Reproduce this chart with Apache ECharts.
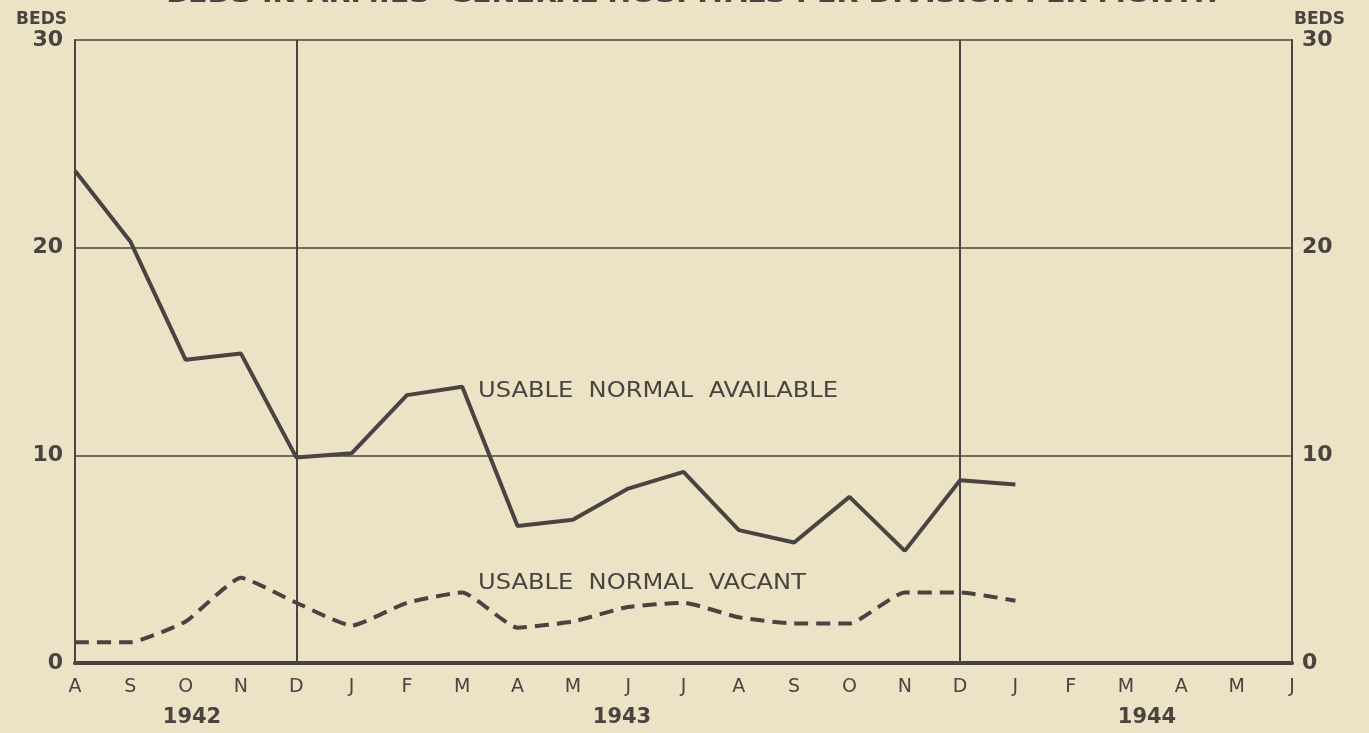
<!DOCTYPE html>
<html>
<head>
<meta charset="utf-8">
<script src="https://cdn.jsdelivr.net/npm/echarts@6/dist/echarts.min.js"></script>
<style>
  html, body { margin: 0; padding: 0; background: #ece2c6; }
  #chart { width: 1369px; height: 733px; }
</style>
</head>
<body>
<div id="chart"></div>
<script>
  var months = ['A', 'S', 'O', 'N', 'D', 'J', 'F', 'M', 'A', 'M', 'J', 'J',
    'A', 'S', 'O', 'N', 'D', 'J', 'F', 'M', 'A', 'M', 'J']
  var years = ['1942', '1943', '1944']
  // usable normal available, Aug 1942 - Jan 1944
  var available = [23.7, 20.3, 14.6, 14.9, 9.9, 10.1, 12.9, 13.3, 6.6, 6.9,
    8.4, 9.2, 6.4, 5.8, 8.0, 5.4, 8.8, 8.6]
  // usable normal vacant
  var vacant = [1.0, 1.0, 2.0, 4.1, 2.9, 1.8, 2.9, 3.4, 1.7, 2.0,
    2.7, 2.9, 2.2, 1.9, 1.9, 3.4, 3.4, 3.0]
  var yTicks = [0, 10, 20, 30]

  var ink = '#4a4440'
  var font = 'DejaVu Sans'

  var chart = echarts.init(document.getElementById('chart'))
  chart.setOption({
    backgroundColor: '#ece2c6',
    animation: false,
    textStyle: { fontFamily: font, color: ink },
    grid: { left: 75, right: 77, top: 40, bottom: 70 },
    xAxis: [{
      type: 'category',
      data: months,
      boundaryGap: false,
      axisLine: { lineStyle: { color: ink, width: 4 } },
      axisTick: { show: false },
      axisLabel: { color: ink, fontSize: 19, margin: 15, fontFamily: font },
      splitLine: {
        show: true,
        interval: function (i) { return i === 4 || i === 16 },
        lineStyle: { color: ink, width: 2 }
      }
    }, {
      type: 'category',
      data: months,
      position: 'top',
      boundaryGap: false,
      axisLine: { lineStyle: { color: ink, width: 3 } },
      axisTick: { show: false },
      axisLabel: { show: false }
    }],
    yAxis: [{
      type: 'value',
      min: yTicks[0],
      max: yTicks[yTicks.length - 1],
      interval: 10,
      name: 'BEDS',
      nameGap: 12,
      nameTextStyle: { color: ink, fontSize: 17, fontWeight: 'bold', align: 'right', padding: [0, 8, 0, 0] },
      axisLine: { show: true, lineStyle: { color: ink, width: 2 } },
      axisTick: { show: false },
      axisLabel: { color: ink, fontSize: 22, fontWeight: 'bold', margin: 12 },
      splitLine: { lineStyle: { color: ink, width: 1.5 } }
    }, {
      type: 'value',
      position: 'right',
      min: yTicks[0],
      max: yTicks[yTicks.length - 1],
      interval: 10,
      name: 'BEDS',
      nameGap: 12,
      nameTextStyle: { color: ink, fontSize: 17, fontWeight: 'bold', align: 'left', padding: [0, 0, 0, 2] },
      axisLine: { show: true, lineStyle: { color: ink, width: 2 } },
      axisTick: { show: false },
      axisLabel: { color: ink, fontSize: 22, fontWeight: 'bold', margin: 10 },
      splitLine: { show: false }
    }],
    series: [{
      name: 'USABLE NORMAL AVAILABLE',
      type: 'line',
      data: available,
      symbol: 'none',
      lineStyle: { color: ink, width: 4 }
    }, {
      name: 'USABLE NORMAL VACANT',
      type: 'line',
      data: vacant,
      symbol: 'none',
      smooth: 0.15,
      lineStyle: { color: ink, width: 4, type: [14, 8] }
    }],
    graphic: [{
      type: 'text',
      x: 692, y: -15,
      style: {
        text: "BEDS IN ARMIES' GENERAL HOSPITALS PER DIVISION PER MONTH",
        fill: ink, font: 'bold 22px ' + font, align: 'center'
      },
      scaleX: 1.3
    }, {
      type: 'text', x: 478, y: 381, scaleX: 1.15,
      style: { text: 'USABLE  NORMAL  AVAILABLE', fill: ink, font: '21px ' + font }
    }, {
      type: 'text', x: 478, y: 573, scaleX: 1.15,
      style: { text: 'USABLE  NORMAL  VACANT', fill: ink, font: '21px ' + font }
    }, {
      type: 'text', x: 192, y: 707,
      style: { text: years[0], fill: ink, font: 'bold 21px ' + font, align: 'center' }
    }, {
      type: 'text', x: 622, y: 707,
      style: { text: years[1], fill: ink, font: 'bold 21px ' + font, align: 'center' }
    }, {
      type: 'text', x: 1147, y: 707,
      style: { text: years[2], fill: ink, font: 'bold 21px ' + font, align: 'center' }
    }]
  })
</script>
</body>
</html>
